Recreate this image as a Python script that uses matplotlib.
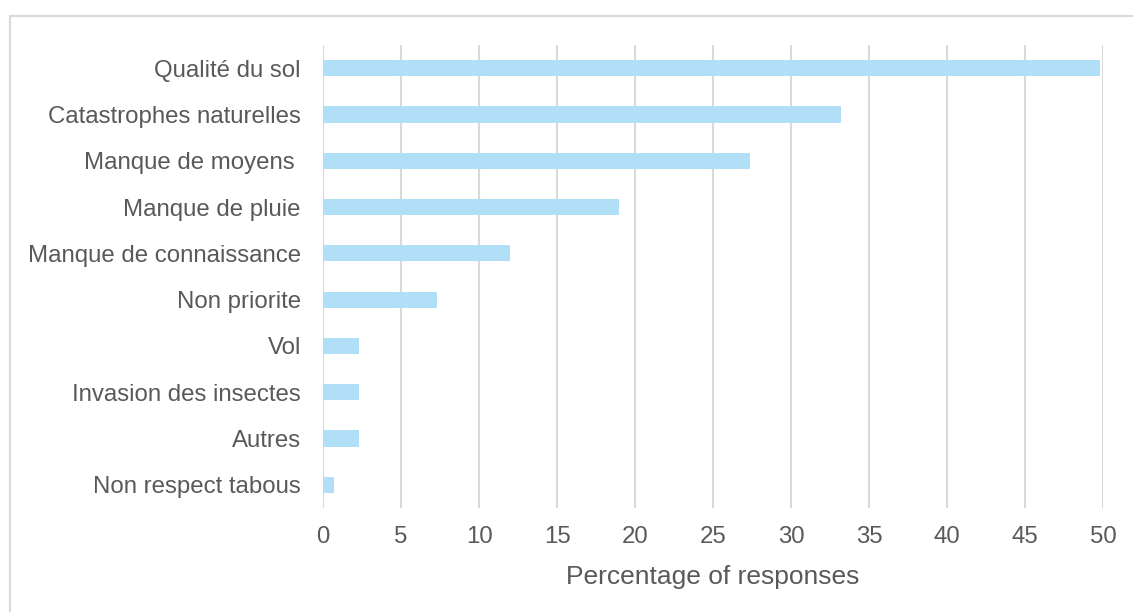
import matplotlib.pyplot as plt
from matplotlib.lines import Line2D

# Reasons given, top to bottom
causes = ['Qualité du sol', 'Catastrophes naturelles', 'Manque de moyens ',
          'Manque de pluie', 'Manque de connaissance', 'Non priorite', 'Vol',
          'Invasion des insectes', 'Autres', 'Non respect tabous']
pct = [49.8, 33.2, 27.4, 19.0, 12.0, 7.3, 2.3, 2.3, 2.3, 0.7]
xticks = [0, 5, 10, 15, 20, 25, 30, 35, 40, 45, 50]

text_col = '#595959'
plt.rcParams['font.family'] = ['Liberation Sans', 'DejaVu Sans']

fig = plt.figure(figsize=(11.33, 6.12), dpi=100)
ax = fig.add_axes([323 / 1133, 1 - 508 / 612, 780 / 1133, 463 / 612])

ypos = list(range(len(causes)))[::-1]
ax.barh(ypos, pct, height=0.35, color='#b1dff7', zorder=3)

ax.set_xlim(0, 50)
ax.set_ylim(-0.5, len(causes) - 0.5)
ax.set_xticks(xticks)
ax.set_xticklabels([str(t) for t in xticks])
ax.set_yticks(ypos)
ax.set_yticklabels(causes)
ax.grid(axis='x', color='#d9d9d9', linewidth=1.5, zorder=0)
ax.tick_params(axis='both', length=0, labelsize=17.3, labelcolor=text_col)
ax.tick_params(axis='x', pad=13)
ax.tick_params(axis='y', pad=16)
for s in ax.spines.values():
    s.set_visible(False)

ax.set_xlabel('Percentage of responses', fontsize=19, color=text_col, labelpad=12)

# outer frame (only top and left edges fall inside the image)
fig.add_artist(Line2D([10 / 1133, 1], [1 - 16 / 612] * 2, color='#d9d9d9', lw=1.5))
fig.add_artist(Line2D([10 / 1133] * 2, [0, 1 - 16 / 612], color='#d9d9d9', lw=1.5))

fig.savefig('out.png', dpi=100)
